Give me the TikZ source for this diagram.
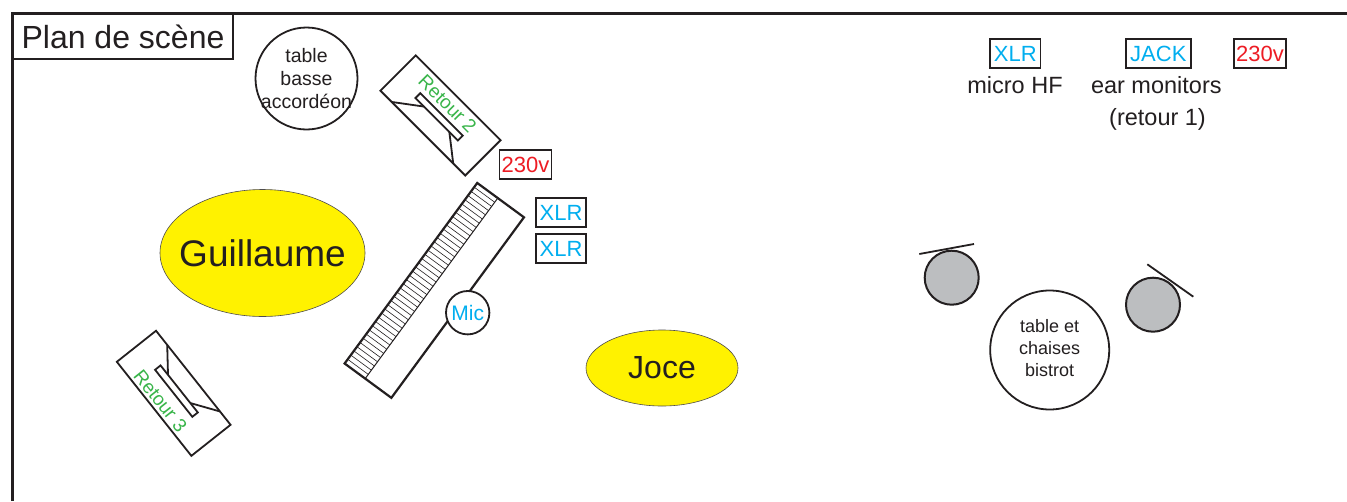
\documentclass[tikz,border=0pt]{standalone}
\usepackage{fontspec}
\setmainfont{Liberation Sans}
\usetikzlibrary{shapes.geometric}
\definecolor{ink}{HTML}{231F20}
\definecolor{sy}{HTML}{FFF200}
\definecolor{scyan}{HTML}{00AEEF}
\definecolor{sred}{HTML}{ED1C24}
\definecolor{sgreen}{HTML}{39B54A}
\definecolor{sgray}{HTML}{BCBEC0}
\newcommand{\fs}[2]{\fontsize{#1}{#2}\selectfont}
\tikzset{
  plug/.style={draw=ink, line width=1.8pt, inner sep=0pt, minimum height=29pt, text height=15.5pt, text depth=0pt, font=\fs{22}{26}},
  xlr/.style={plug, text=scyan, minimum width=50.5pt},
  jack/.style={plug, text=scyan, minimum width=64.7pt},
  volt/.style={plug, text=sred, minimum width=52pt},
  wedge/.style={draw=ink, line width=1.8pt, line join=miter},
  retour/.style={text=sgreen, font=\fs{19}{21}, inner sep=0pt},
  person/.style={ellipse, fill=sy, draw=ink!80, line width=0.6pt, inner sep=0pt},
  plaintext/.style={text=ink, inner sep=0pt, align=center},
  roundtable/.style={circle, draw=ink, line width=1.8pt, fill=white, inner sep=0pt},
  chair/.style={circle, draw=ink, line width=2pt, fill=sgray, minimum size=54pt, inner sep=0pt},
  back/.style={draw=ink, line width=1.8pt},
  legend/.style={text=ink, font=\fs{23.5}{28}, inner sep=0pt, anchor=base},
}
\begin{document}
\begin{tikzpicture}[x=1pt, y=-1pt]
\useasboundingbox (0,0) rectangle (1347,501);
\fill[white] (0,0) rectangle (1347,501);
% stage frame
\draw[ink, line width=3pt] (12,501) -- (12,13) -- (1347,13);
\node[draw=ink, line width=1.5pt, minimum width=220pt, minimum height=45pt, inner sep=0pt, font=\fs{32}{36}, text=ink] (plan) at (123,36.5) {Plan de scène};

% table basse
\node[roundtable, minimum size=102pt] (tbasse) at (306.5,78.5) {};
\node[plaintext, font=\fs{19.5}{23}] (tbassetxt) at (tbasse.center) {table\\basse\\accordéon};

% Retour 2
\begin{scope}[shift={(440.5,115.4)}, rotate=-45]
  \draw[wedge] (-60,-25) rectangle (60,25);
  \draw[wedge] (-30,-1.5) rectangle (30,5.5);
  \draw[wedge] (-44,25) -- (-18,5.5);
  \draw[wedge] (18,5.5) -- (43,25);
  \node[retour, rotate=-45] (r2) at (-3,-13) {Retour 2};
\end{scope}

% Retour 3
\begin{scope}[shift={(173.7,393.3)}, rotate=-51.6]
  \draw[wedge] (-60,-25) rectangle (60,25);
  \draw[wedge] (-30,-7) rectangle (30,0);
  \draw[wedge] (-42,-25) -- (-18,-7);
  \draw[wedge] (18,-7) -- (43,-25);
  \node[retour, rotate=-51.6] (r3) at (-2.4,15) {Retour 3};
\end{scope}

% keyboard
\begin{scope}[shift={(434.3,290.4)}, rotate=53.7]
  \draw[ink, line width=2.2pt, line join=miter] (-112,-29) rectangle (112,29);
  \draw[ink, line width=1pt] (-112,-3.5) -- (112,-3.5);
  \foreach \i in {1,...,42} \draw[ink, line width=0.6pt] (-112+\i*5.21,-29) -- (-112+\i*5.21,-3.5);
\end{scope}
\node[roundtable, minimum size=43.4pt, text=scyan, font=\fs{21}{24}] (mic) at (467.7,312.7) {Mic};

% plugs near keyboard
\node[volt] (v1) at (525.5,164.5) {230v};
\node[xlr] (x1) at (561,212.5) {XLR};
\node[xlr] (x2) at (561,248.7) {XLR};

% people
\node[person, minimum width=205pt, minimum height=127pt] (guill) at (262.5,253) {};
\node[plaintext, font=\fs{37}{40}] (guillt) at (guill.center) {Guillaume};
\node[person, minimum width=152pt, minimum height=76pt] (joce) at (662,368) {};
\node[plaintext, font=\fs{32}{36}] (jocet) at (joce.center) {Joce};

% top right legend
\node[xlr] (x3) at (1015.3,53.7) {XLR};
\node[jack] (jk) at (1158.3,53.7) {JACK};
\node[volt] (v2) at (1260,53.7) {230v};
\node[legend] (mhf) at (1015,93.3) {micro HF};
\node[legend] (ear) at (1156.3,93.3) {ear monitors};
\node[legend] (ret1) at (1157.5,125) {(retour 1)};

% bistrot
\node[roundtable, minimum size=119pt] (bistrot) at (1049.7,350) {};
\node[plaintext, font=\fs{18}{22}] (bistrottxt) at (1049.7,348) {table et\\chaises\\bistrot};
\node[chair] (c1) at (951.7,277.7) {};
\node[chair] (c2) at (1153,304.7) {};
\coordinate (c1a) at (919.3,254);
\coordinate (c1b) at (974,244);
\coordinate (c2a) at (1147.3,264.3);
\coordinate (c2b) at (1193.3,296.7);
\draw[back] (c1a) -- (c1b);
\draw[back] (c2a) -- (c2b);
\end{tikzpicture}
\end{document}
